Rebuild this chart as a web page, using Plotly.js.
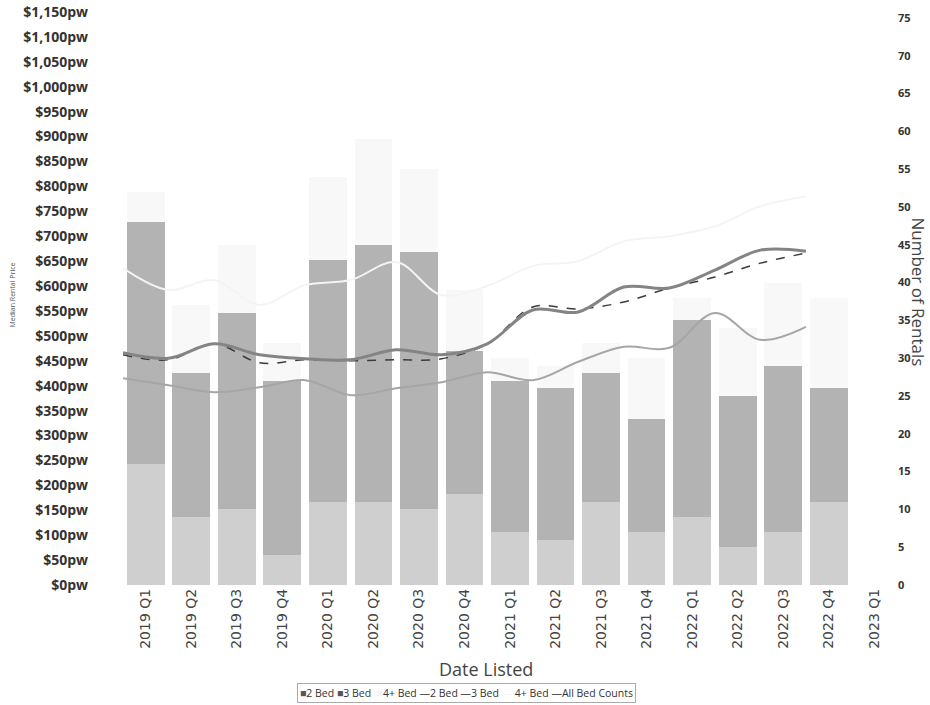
<!DOCTYPE html>
<html>
<head>
<meta charset="utf-8">
<script src="https://cdn.plot.ly/plotly-3.0.1.min.js"></script>
<style>html,body{margin:0;padding:0;background:#fff;}#chart{width:930px;height:705px;}</style>
</head>
<body>
<div id="chart"></div>
<script>
// Quarter labels (the last one has no data)
var categories = ["2019 Q1","2019 Q2","2019 Q3","2019 Q4","2020 Q1","2020 Q2","2020 Q3","2020 Q4",
                  "2021 Q1","2021 Q2","2021 Q3","2021 Q4","2022 Q1","2022 Q2","2022 Q3","2022 Q4","2023 Q1"];
var dataQuarters = categories.slice(0, 16);

// Number of rentals (stacked bars)
var twoBedCount   = [16, 9, 10, 4, 11, 11, 10, 12, 7, 6, 11, 7, 9, 5, 7, 11];
var threeBedCount = [32, 19, 26, 23, 32, 34, 34, 19, 20, 20, 17, 15, 26, 20, 22, 15];
var fourBedCount  = [4, 9, 9, 5, 11, 14, 11, 8, 3, 3, 4, 8, 3, 9, 11, 12];

// Median rental price ($ per week), lines plotted at the start of each quarter
var twoBedPrice   = [415, 401, 387, 397, 411, 381, 395, 407, 427, 411, 448, 478, 476, 546, 492, 518];
var threeBedPrice = [462, 452, 484, 446, 452, 450, 452, 454, 484, 558, 554, 568, 596, 618, 646, 666];
var fourBedPrice  = [636, 592, 612, 562, 602, 612, 648, 582, 600, 640, 650, 690, 700, 720, 760, 780];
var allBedPrice   = [466, 455, 484, 462, 454, 452, 472, 462, 484, 552, 548, 598, 596, 632, 672, 670];

// Legend entries (drawn as a text key below the chart)
var legendLabels = ["2 Bed", "3 Bed", "4+ Bed", "2 Bed", "3 Bed", "4+ Bed", "All Bed Counts"];

var barX = dataQuarters.map(function(c, i){ return i; });
var lineX = dataQuarters.map(function(c, i){ return i - 0.5; });
var tickPos = categories.map(function(c, i){ return i; });

function bar(name, y, color) {
  return {type: 'bar', name: name, x: barX, y: y, xaxis: 'x', yaxis: 'y',
          marker: {color: color, line: {width: 0}}, hoverinfo: 'skip'};
}
function line(name, y, color, width, dash) {
  return {type: 'scatter', mode: 'lines', name: name, x: lineX, y: y, xaxis: 'x', yaxis: 'y2',
          line: {color: color, width: width, shape: 'spline', smoothing: 1, dash: dash || 'solid'},
          hoverinfo: 'skip'};
}

var traces = [
  bar(legendLabels[0], twoBedCount, '#cfcfcf'),
  bar(legendLabels[1], threeBedCount, '#b3b3b3'),
  bar(legendLabels[2], fourBedCount, '#f8f8f8'),
  line(legendLabels[3], twoBedPrice, '#a6a6a6', 2),
  line(legendLabels[4], threeBedPrice, '#3c3c3c', 1.5, 'dash'),
  line(legendLabels[5], fourBedPrice, '#f4f4f4', 2),
  line(legendLabels[6], allBedPrice, '#848484', 3)
];

var sq = '<span style="color:#555">■</span>';
var sqBlank = '<span style="color:#f4f4f4">■</span>';
var dsh = '<span style="color:#555">—</span>';
var dshBlank = '<span style="color:#f4f4f4">—</span>';
var legendText = sq + legendLabels[0] + ' ' + sq + legendLabels[1] + '  ' + sqBlank + legendLabels[2] + ' ' +
                 dsh + legendLabels[3] + ' ' + dsh + legendLabels[4] + '  ' + dshBlank + legendLabels[5] + ' ' +
                 dsh + legendLabels[6];

var layout = {
  width: 930, height: 705,
  margin: {l: 123, r: 33, t: 5, b: 120},
  paper_bgcolor: '#ffffff', plot_bgcolor: '#ffffff',
  barmode: 'stack', bargap: 0.17,
  font: {family: 'Open Sans', color: '#444'},
  showlegend: false,
  xaxis: {
    type: 'linear', range: [-0.5, 16.5],
    tickmode: 'array', tickvals: tickPos, ticktext: categories,
    tickangle: -90, showgrid: false, zeroline: false, showline: false, ticks: '',
    tickfont: {family: 'DejaVu Sans', size: 14, color: '#444'}
  },
  yaxis: {
    side: 'right', range: [0, 76.7], dtick: 5, tick0: 0,
    showgrid: false, zeroline: false, showline: false, ticks: '',
    tickfont: {family: 'Open Sans', size: 11, color: '#333', weight: 'bold'}
  },
  yaxis2: {
    overlaying: 'y', side: 'left', range: [0, 1164], dtick: 50, tick0: 0,
    tickformat: ',', tickprefix: '$', ticksuffix: 'pw',
    showgrid: false, zeroline: false, showline: false, ticks: '',
    ticklabelstandoff: 34,
    tickfont: {family: 'Open Sans', size: 14, color: '#333', weight: 'bold'},
    title: {text: 'Median Rental Price', font: {family: 'Open Sans', size: 7, color: '#555'}, standoff: 6}
  },
  annotations: [
    {
      text: 'Number of Rentals', textangle: 90, xref: 'paper', yref: 'paper',
      x: 1.028, y: 0.505, xanchor: 'center', yanchor: 'middle', showarrow: false,
      font: {family: 'Open Sans', size: 17, color: '#444'}
    },
    {
      text: 'Date Listed', xref: 'paper', yref: 'paper',
      x: 0.469, y: -0.145, xanchor: 'center', yanchor: 'middle', showarrow: false,
      font: {family: 'Open Sans', size: 18, color: '#444'}
    },
    {
      text: legendText, xref: 'paper', yref: 'paper',
      x: 0.444, y: -0.186, xanchor: 'center', yanchor: 'middle', showarrow: false,
      font: {family: 'Open Sans', size: 10.5, color: '#333'},
      bordercolor: '#aaa', borderwidth: 1, borderpad: 2, bgcolor: '#fff'
    }
  ]
};

Plotly.newPlot('chart', traces, layout, {staticPlot: true, displayModeBar: false});
</script>
</body>
</html>
